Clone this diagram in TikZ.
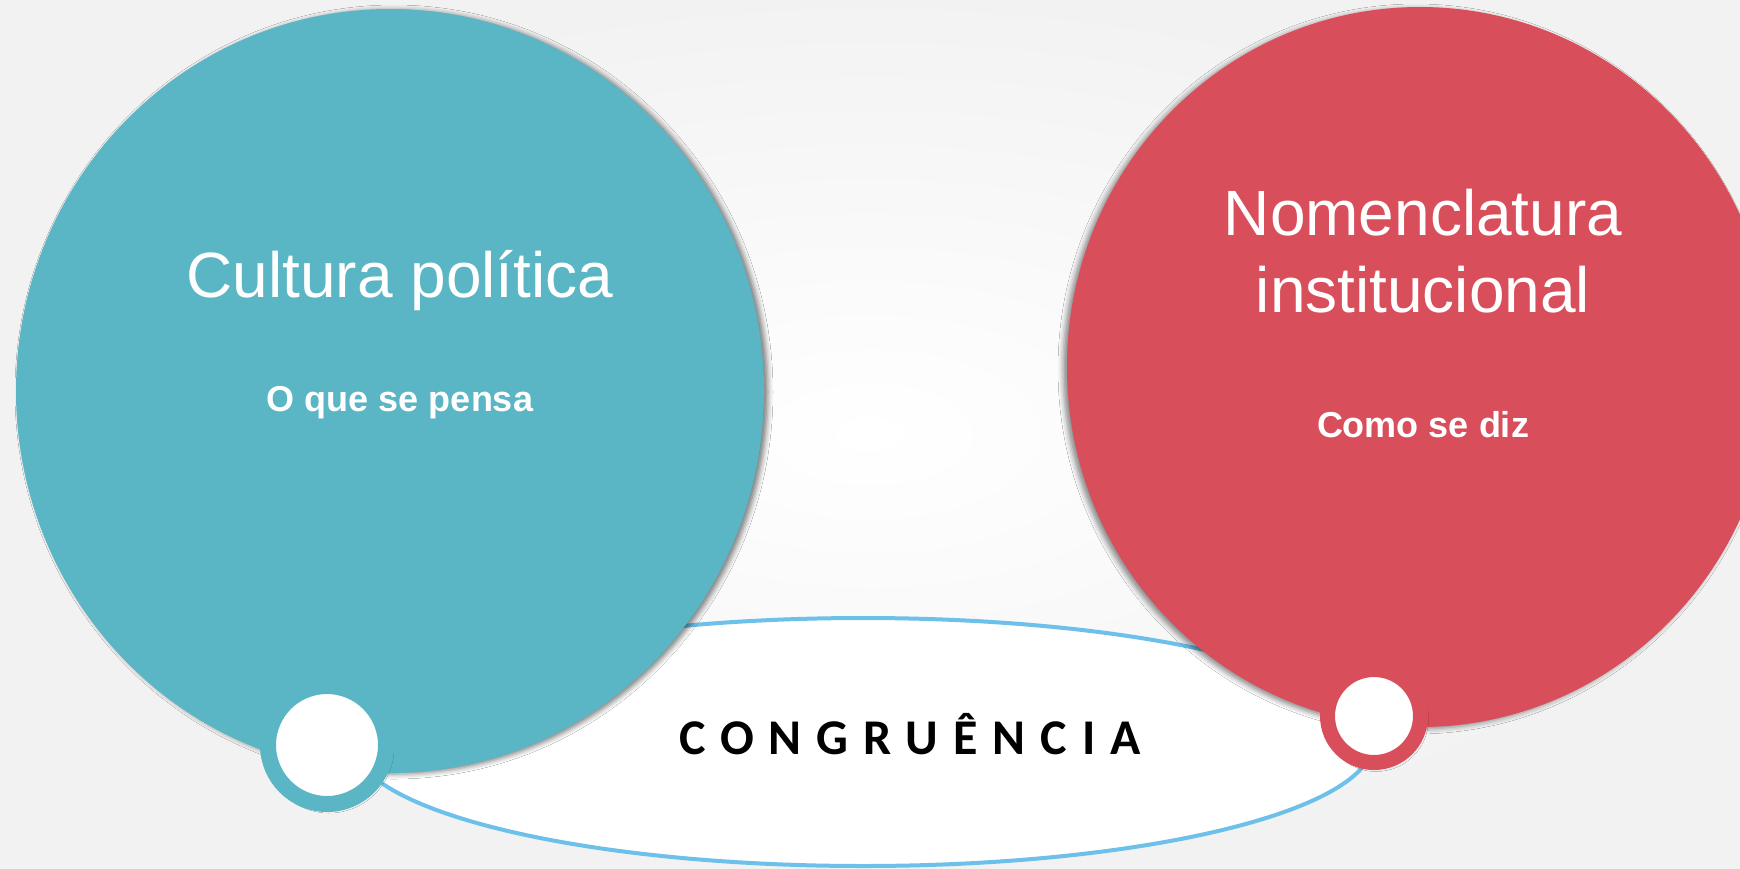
\documentclass[tikz,border=0pt]{standalone}
\usepackage{fontspec}
\setmainfont{Liberation Sans}
\newfontfamily\carlito{Carlito}
\usetikzlibrary{shapes.geometric,shadows.blur,positioning}
\definecolor{circteal}{RGB}{90,181,196}
\definecolor{circred}{RGB}{217,78,91}
\definecolor{ovalblue}{RGB}{108,192,234}

\begin{document}
\begin{tikzpicture}
  [x=0.5pt,y=-0.5pt,
   bigcirc/.style={ellipse,inner sep=0pt},
   ring/.style={circle,fill=white,inner sep=0pt,blur shadow={shadow xshift=1pt,shadow yshift=-1.5pt,shadow blur radius=3pt,shadow opacity=30}},
   title/.style={text=white,font=\fontsize{32}{38.3}\selectfont,align=center,anchor=base},
   sub/.style={text=white,font=\fontsize{18}{21}\selectfont\bfseries,anchor=base}]
  \useasboundingbox (0,0) rectangle (1740,868);
  \clip (0,0) rectangle (1740,868);
  \shade[inner color=white,outer color=black!5] (0,0) rectangle (1740,868);

  \node (oval) [ellipse,draw=ovalblue,line width=2pt,fill=white,minimum width=510pt,minimum height=124pt,inner sep=0pt] at (863,742) {};

  \node (cultura) [bigcirc,fill=circteal,minimum width=374pt,minimum height=382pt,
    blur shadow={shadow xshift=2pt,shadow yshift=-0.5pt,shadow blur radius=2.5pt,shadow opacity=50}] at (390,391) {};
  \node (nomenclatura) [bigcirc,fill=circred,minimum width=353pt,minimum height=360pt,
    blur shadow={shadow xshift=-2pt,shadow yshift=-1pt,shadow blur radius=2.5pt,shadow opacity=45}] at (1420,367) {};

  \node (ringl) [ring,draw=circteal,line width=8pt,minimum size=59pt] at (327,745) {};
  \node (ringr) [ring,draw=circred,line width=7.5pt,minimum size=46.5pt] at (1374,716) {};

  \node (culturatxt) [title] at (400,297) {Cultura política};
  \node (pensa) [sub] at (400,411) {O que se pensa};
  \node (nomentxt) [title] at (1423,312) {Nomenclatura\\institucional};
  \node (diz) [sub] at (1423,437) {Como se diz};

  \node (congr) [font=\fontsize{25}{28}\carlito\bfseries\addfontfeature{LetterSpace=30},anchor=base] at (910,754) {CONGRUÊNCIA};
\end{tikzpicture}
\end{document}
